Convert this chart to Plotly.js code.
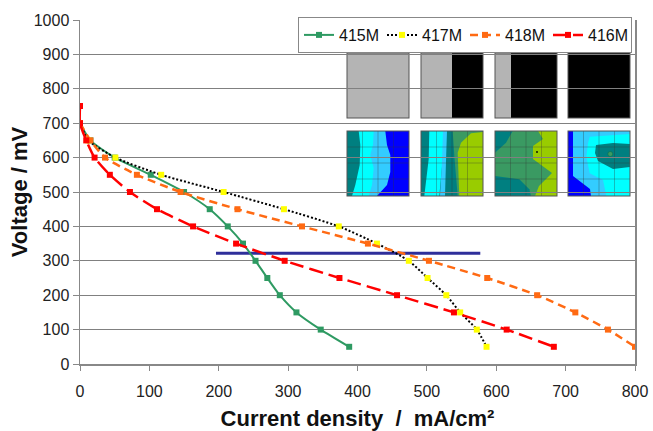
<!DOCTYPE html>
<html>
<head>
<meta charset="utf-8">
<script src="https://cdn.plot.ly/plotly-3.0.1.min.js"></script>
<style>html,body{margin:0;padding:0;background:#fff;}#chart{width:653px;height:431px;}</style>
</head>
<body>
<div id="chart"></div>
<script>
// ---- data ----
const voltage = [700, 650, 600, 550, 500, 450, 400, 350, 300, 250, 200, 150, 100, 50];
const current415M = [0, 15, 50, 102, 150, 187, 213, 235, 253, 270, 288, 312, 347, 388];
const current417M = [0, 12, 51, 117, 207, 294, 373, 428, 474, 501, 528, 548, 572, 586];
const current418M = [0, 15, 36, 82, 145, 227, 320, 415, 503, 587, 659, 714, 761, 800];
const voltage416M = [750, 700, 650, 600, 550, 500, 450, 400, 350, 300, 250, 200, 150, 100, 50];
const current416M = [0, 0, 9, 21, 43, 72, 111, 163, 225, 295, 374, 457, 539, 615, 683];
const refLineX = [196, 577];
const refLineY = [322, 322];
const seriesNames = ['415M', '417M', '418M', '416M'];
const xTicks = [0, 100, 200, 300, 400, 500, 600, 700, 800];
const yTicks = [0, 100, 200, 300, 400, 500, 600, 700, 800, 900, 1000];

// ---- inset pictures (decoration) as an SVG image ----
function poly(pts, fill) {
  return '<polygon points="' + pts.map(p => p.join(',')).join(' ') + '" fill="' + fill + '"/>';
}
function panel(ox, oy, inner) {
  let grid = '';
  [15.5, 31, 46.5].forEach(v => { grid += '<line x1="' + v + '" y1="0" x2="' + v + '" y2="65" stroke="#333" stroke-opacity="0.55" stroke-width="0.6"/>'; });
  [16, 32, 48].forEach(v => { grid += '<line x1="0" y1="' + v + '" x2="62" y2="' + v + '" stroke="#333" stroke-opacity="0.55" stroke-width="0.6"/>'; });
  return '<g transform="translate(' + ox + ',' + oy + ')">' + inner + (inner.indexOf('contour') >= 0 ? grid : '') +
    '<rect x="0" y="0" width="62" height="65" fill="none" stroke="#555" stroke-width="1"/></g>';
}
const TEAL = '#007F80', CYAN = '#00FFFF', LBLUE = '#33CCFF', BLUE = '#0000FF', GREEN = '#3A9A62', YG = '#99CC00', GRAY = '#B4B4B4';
const ox = [7, 81, 155, 228];
let svg = '<svg xmlns="http://www.w3.org/2000/svg" width="300" height="155" viewBox="0 0 300 155" preserveAspectRatio="none">';
svg += panel(ox[0], 8, '<rect width="62" height="65" fill="' + GRAY + '"/>');
svg += panel(ox[1], 8, '<rect width="62" height="65" fill="' + GRAY + '"/><rect x="31" width="31" height="65" fill="#000"/>');
svg += panel(ox[2], 8, '<rect width="62" height="65" fill="' + GRAY + '"/><rect x="16" width="46" height="65" fill="#000"/>');
svg += panel(ox[3], 8, '<rect width="62" height="65" fill="#000"/>');
let c1 = '<g class="contour"></g><rect width="62" height="65" fill="' + TEAL + '"/>' +
  poly([[11.7,0],[62,0],[62,65],[5,65],[8.3,54],[12.7,34],[13.3,14]], CYAN) +
  poly([[26.7,0],[62,0],[62,65],[21.7,65],[25,54],[26.7,37],[23.3,24],[26,14]], LBLUE) +
  poly([[38.3,0],[62,0],[62,65],[30,65],[40,54],[43.3,41],[43.3,24],[40,14]], BLUE);
let c2 = '<g class="contour"></g><rect width="62" height="65" fill="' + TEAL + '"/>' +
  poly([[8.3,0],[25,0],[21.7,28],[18.3,65],[3.3,65],[7.7,28]], CYAN) +
  poly([[22,0],[26,0],[25,30],[24,65],[19,65],[21,30]], LBLUE) +
  poly([[31.7,0],[62,0],[62,65],[36.7,65],[33.3,25]], GREEN) +
  poly([[50,2.3],[62,1],[62,65],[38.3,65],[36.7,21.7],[40,11.7]], YG);
let c3 = '<g class="contour"></g><rect width="62" height="65" fill="' + GREEN + '"/>' +
  poly([[0,0],[17.7,0],[11,11.7],[0,21.7]], TEAL) +
  poly([[43,0],[62,0],[62,65],[40,65],[44,55],[57,42],[38,28],[38,15],[48,8]], YG) +
  poly([[0,45],[24.3,48.3],[34.3,58.3],[36,65],[0,65]], TEAL) +
  '<circle cx="42" cy="21" r="0.9" fill="#000"/>';
let c4 = '<g class="contour"></g><rect width="62" height="65" fill="' + LBLUE + '"/>' +
  poly([[21.7,5.7],[62,3],[62,65],[38.3,65],[35,49],[21.7,42.3],[18.3,25.7],[20,12.3]], CYAN) +
  poly([[28,14],[45,12],[62,13],[62,36],[45,38],[30,30],[27,22]], TEAL) +
  '<circle cx="42.3" cy="23" r="2.5" fill="' + GREEN + '" stroke="#064" stroke-width="0.5"/>' +
  poly([[0,0],[5,0],[5,45],[22,58],[23,65],[0,65]], BLUE);
svg += panel(ox[0], 86, c1) + panel(ox[1], 86, c2) + panel(ox[2], 86, c3) + panel(ox[3], 86, c4);
svg += '</svg>';
const svgUri = 'data:image/svg+xml;charset=utf-8,' + encodeURIComponent(svg);

const L = 80, R = 18, T = 20, B = 67, W = 653, H = 431;
const pw = W - L - R, ph = H - T - B;

const markerBase = {symbol: 'square', size: 6};
const traces = [
  {x: refLineX, y: refLineY, mode: 'lines', line: {color: '#2E2E9A', width: 3}, showlegend: false, hoverinfo: 'skip'},
  {x: current415M, y: voltage, name: seriesNames[0], mode: 'lines+markers',
   line: {color: '#2E9A62', width: 2, shape: 'spline', smoothing: 0.6}, marker: Object.assign({color: '#2E9A62'}, markerBase)},
  {x: current417M, y: voltage, name: seriesNames[1], mode: 'lines+markers',
   line: {color: '#000000', width: 2, dash: '2px,2px', shape: 'spline', smoothing: 0.6}, marker: Object.assign({color: '#FFFF00'}, markerBase)},
  {x: current418M, y: voltage, name: seriesNames[2], mode: 'lines+markers',
   line: {color: '#FF6A13', width: 2.5, dash: '8px,5px', shape: 'spline', smoothing: 0.6}, marker: Object.assign({color: '#FF6A13'}, markerBase)},
  {x: current416M, y: voltage416M, name: seriesNames[3], mode: 'lines+markers',
   line: {color: '#FF0000', width: 2.5, dash: '14px,6px', shape: 'spline', smoothing: 0.6}, marker: Object.assign({color: '#FF0000'}, markerBase)}
];

const FONT = 'Arial, Liberation Sans, sans-serif';
const axisFont = {family: FONT, size: 16, color: '#222'};
const titleFont = {family: FONT, size: 22, color: '#111', weight: 'bold'};
const layout = {
  width: W, height: H,
  margin: {l: L, r: R, t: T, b: B, pad: 0},
  paper_bgcolor: '#ffffff', plot_bgcolor: 'rgba(0,0,0,0)',
  font: axisFont,
  showlegend: true,
  legend: {orientation: 'h', x: (632 - L) / pw, xanchor: 'right', y: (H - B - 35) / ph, yanchor: 'middle',
           bgcolor: '#ffffff', bordercolor: '#888', borderwidth: 1, font: {family: FONT, size: 16, color: '#111'},
           itemwidth: 30, entrywidth: 38, entrywidthmode: 'pixels', tracegroupgap: 0},
  xaxis: {range: [0, 800], tickvals: xTicks, showgrid: false, zeroline: false,
          showline: true, linecolor: '#888', linewidth: 1.5, ticks: 'outside', ticklen: 5, tickcolor: '#888',
          tickfont: axisFont, ticklabelstandoff: 7, mirror: false,
          title: {text: 'Current density  /  mA/cm²', font: titleFont, standoff: 17}},
  yaxis: {range: [0, 1000], tickvals: yTicks, showgrid: true, gridcolor: '#808080', gridwidth: 1, zeroline: false,
          showline: true, linecolor: '#888', linewidth: 1.5, ticks: 'outside', ticklen: 6, tickcolor: '#888',
          tickfont: axisFont, mirror: true,
          title: {text: 'Voltage / mV', font: titleFont, standoff: 0}},
  images: [{source: svgUri, xref: 'paper', yref: 'paper', x: (340 - L) / pw, y: (H - B - 45) / ph,
            sizex: 300 / pw, sizey: 155 / ph, sizing: 'stretch', xanchor: 'left', yanchor: 'top', layer: 'below'}]
};
Plotly.newPlot('chart', traces, layout, {displayModeBar: false, staticPlot: true});
</script>
</body>
</html>
